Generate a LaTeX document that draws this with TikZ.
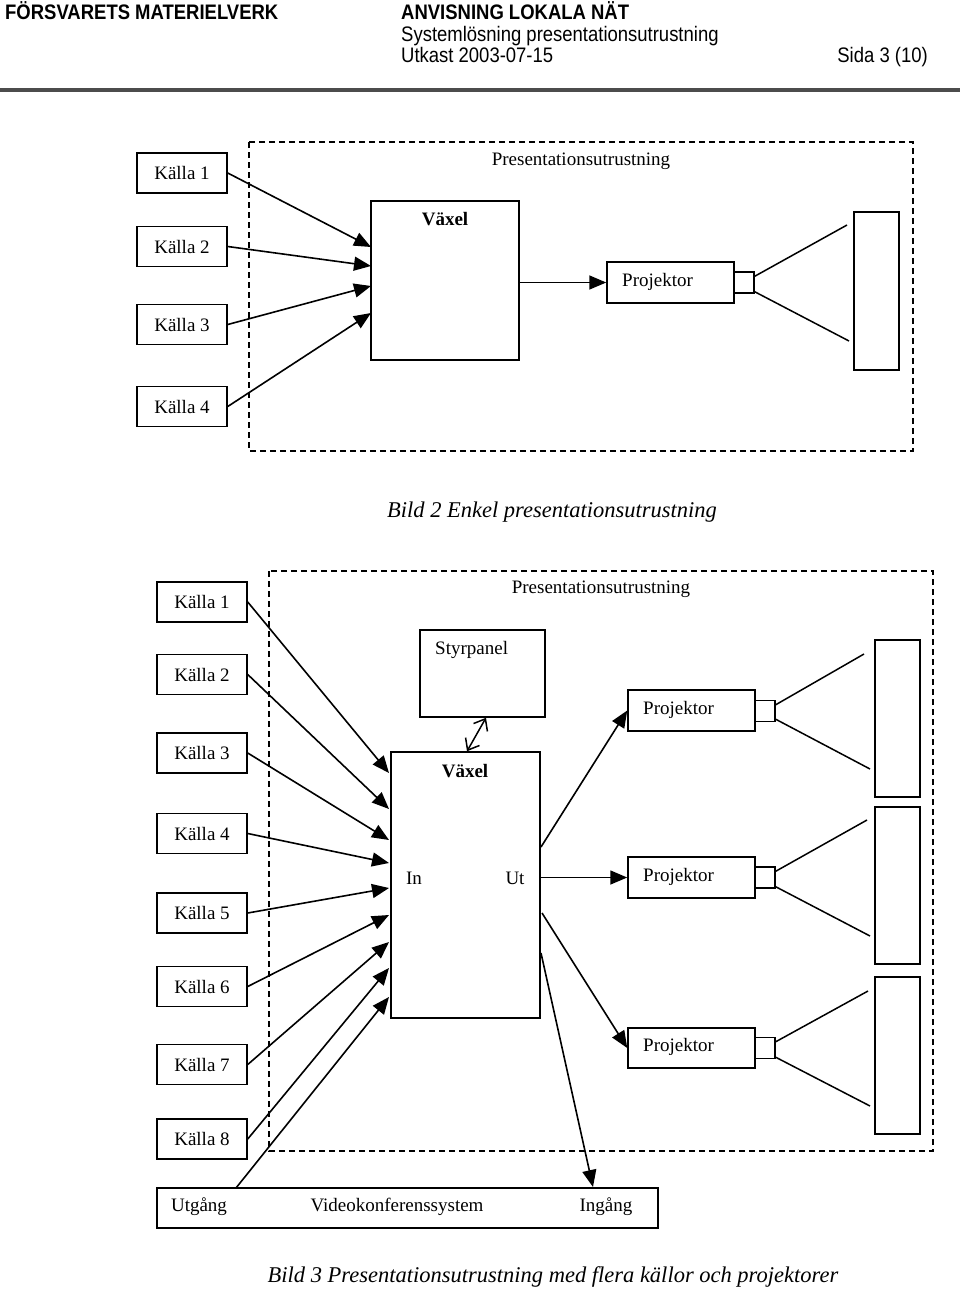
\documentclass[tikz,border=0pt]{standalone}
\usepackage{fontspec}
\setmainfont{Liberation Serif}
\newfontfamily\hfont[FakeStretch=0.88]{Liberation Sans}
\usetikzlibrary{arrows.meta}
\begin{document}
\begin{tikzpicture}[x=1pt,y=-1pt,
  box/.style={draw, line width=1.5pt, inner sep=0pt},
  txt/.style={font=\fontsize{19}{23}\selectfont, inner sep=0pt},
  txtb/.style={font=\fontsize{19}{23}\selectfont\bfseries, inner sep=0pt},
  txti/.style={font=\fontsize{22.5}{26}\selectfont\itshape, inner sep=0pt},
  src/.style={box, txt, minimum width=90pt, minimum height=40pt},
  proj/.style={box, minimum width=127pt, minimum height=41pt},
  lens/.style={box, minimum width=20pt, minimum height=21pt},
  screen/.style={box, minimum width=45pt, minimum height=157pt},
  arr/.style={line width=1.6pt, -{Triangle[length=17pt,width=14pt]}},
  ln/.style={line width=1.5pt},
  dashbox/.style={line width=1.5pt, dash pattern=on 6pt off 4pt},
  hdr/.style={font=\hfont\fontsize{21}{24}\selectfont, inner sep=0pt, anchor=base west},
  hdrb/.style={hdr, font=\hfont\fontsize{21}{24}\selectfont\bfseries},
  barb/.style={line width=1.5pt, {Straight Barb[length=10pt,width=16pt]}-{Straight Barb[length=10pt,width=16pt]}}]
\useasboundingbox (0,0) rectangle (960,1290);

% ---------- header ----------
\node[hdrb] (h1) at (5,20) {FÖRSVARETS MATERIELVERK};
\node[hdrb] (h2) at (401,20) {ANVISNING LOKALA NÄT};
\node[hdr] (h3) at (401,42) {Systemlösning presentationsutrustning};
\node[hdr] (h4) at (401,63) {Utkast 2003-07-15};
\node[hdr, anchor=base east] (h5) at (928,63) {Sida 3 (10)};
\coordinate (rl) at (0,90); \coordinate (rr) at (960,90);
\draw[line width=3.5pt, black!70] (rl) -- (rr);

% ---------- figure 2 ----------
\draw[dashbox] (249,142) rectangle (913,451);
\node[txt] (tpt) at (581,161) {Presentationsutrustning};

\node[src] (ta1) at (182,173) {Källa 1};
\node[src] (ta2) at (182,246.5) {Källa 2};
\node[src] (ta3) at (182,324.5) {Källa 3};
\node[src] (ta4) at (182,406.5) {Källa 4};

\node[box, minimum width=148pt, minimum height=159pt] (tvx) at (445,280.5) {};
\node[txtb] (tvxl) at (445,219) {Växel};

\coordinate (tv1) at (371,247);
\coordinate (tv2) at (371,266);
\coordinate (tv3) at (371,286);
\coordinate (tv4) at (371,313);
\draw[arr] (ta1.east) -- (tv1);
\draw[arr] (ta2.east) -- (tv2);
\draw[arr] (ta3.east) -- (tv3);
\draw[arr] (ta4.east) -- (tv4);

\node[proj] (tpr) at (670.5,282.5) {};
\node[txt, anchor=west] (tprl) at (622,282) {Projektor};
\draw[arr] (tvx.east |- tpr.west) -- (tpr.west);
\node[lens] (tls) at (744,282.5) {};
\node[screen, minimum height=158pt] (tsc) at (876.5,291) {};
\coordinate (tb1) at (847,225);
\coordinate (tb2) at (849,341);
\draw[ln] ([yshift=-5pt]tls.north east) -- (tb1);
\draw[ln] ([yshift=2pt]tls.south east) -- (tb2);

\node[txti] (cap2) at (552,512) {Bild 2 Enkel presentationsutrustning};

% ---------- figure 3 ----------
\draw[dashbox] (269,571) rectangle (933,1151);
\node[txt] (bpt) at (601,589) {Presentationsutrustning};

\node[src] (b1) at (202,602) {Källa 1};
\node[src] (b2) at (202,674.5) {Källa 2};
\node[src] (b3) at (202,753) {Källa 3};
\node[src] (b4) at (202,833.5) {Källa 4};
\node[src] (b5) at (202,913) {Källa 5};
\node[src] (b6) at (202,986.5) {Källa 6};
\node[src] (b7) at (202,1064.5) {Källa 7};
\node[src] (b8) at (202,1139) {Källa 8};

\node[box, minimum width=125pt, minimum height=87pt] (bsp) at (482.5,673.5) {};
\node[txt, anchor=west] (bspl) at (435,650) {Styrpanel};

\node[box, minimum width=149pt, minimum height=266pt] (bvx) at (465.5,885) {};
\node[txtb] (bvxl) at (465,771) {Växel};
\node[txt] (bin) at (414,878) {In};
\node[txt] (but) at (515,878) {Ut};

\draw[barb] ([xshift=3.5pt]bsp.south) -- ([xshift=1.5pt]bvx.north);

\coordinate (bv1) at (389,773);
\coordinate (bv2) at (389,809);
\coordinate (bv3) at (389,840);
\coordinate (bv4) at (389,863);
\coordinate (bv5) at (389,888);
\coordinate (bv6) at (389,915);
\coordinate (bv7) at (389,942);
\coordinate (bv8) at (389,968);
\coordinate (bv9) at (389,997);
\draw[arr] (b1.east) -- (bv1);
\draw[arr] (b2.east) -- (bv2);
\draw[arr] (b3.east) -- (bv3);
\draw[arr] (b4.east) -- (bv4);
\draw[arr] (b5.east) -- (bv5);
\draw[arr] (b6.east) -- (bv6);
\draw[arr] (b7.east) -- (bv7);
\draw[arr] (b8.east) -- (bv8);

% projectors
\node[proj] (p1) at (691.5,710.5) {};
\node[txt, anchor=west] (p1l) at (643,710) {Projektor};
\node[lens] (l1) at (765,711) {};
\node[screen] (s1) at (897.5,718.5) {};
\coordinate (p1a) at (864,654); \coordinate (p1b) at (870,769);
\draw[ln] ([yshift=-5pt]l1.north east) -- (p1a);
\draw[ln] ([yshift=3pt]l1.south east) -- (p1b);

\node[proj] (p2) at (691.5,877.5) {};
\node[txt, anchor=west] (p2l) at (643,877) {Projektor};
\node[lens] (l2) at (765,877.5) {};
\node[screen] (s2) at (897.5,885.5) {};
\coordinate (p2a) at (867,820); \coordinate (p2b) at (870,936);
\draw[ln] ([yshift=-5pt]l2.north east) -- (p2a);
\draw[ln] ([yshift=2pt]l2.south east) -- (p2b);

\node[proj, minimum height=40pt] (p3) at (691.5,1048) {};
\node[txt, anchor=west] (p3l) at (643,1047) {Projektor};
\node[lens] (l3) at (765,1048) {};
\node[screen] (s3) at (897.5,1055.5) {};
\coordinate (p3a) at (868,991); \coordinate (p3b) at (870,1106);
\draw[ln] ([yshift=-5pt]l3.north east) -- (p3a);
\draw[ln] ([yshift=2pt]l3.south east) -- (p3b);

\coordinate (bo1) at (541,847);
\coordinate (bo3) at (542,913);
\coordinate (bo4) at (541,953);
\draw[arr] (bo1) -- (p1.west);
\draw[arr] (bvx.east |- p2.west) -- (p2.west);
\draw[arr] (bo3) -- (p3.west);

% video conference
\node[box, minimum width=501pt, minimum height=40pt] (vk) at (407.5,1208) {};
\node[txt] (vku) at (199,1207) {Utgång};
\node[txt] (vkm) at (397,1207) {Videokonferenssystem};
\node[txt] (vki) at (606,1207) {Ingång};
\coordinate (vkin) at (593,1187);
\coordinate (vkout) at (236,1188);
\draw[arr] (bo4) -- (vkin);
\draw[arr] (vkout) -- (bv9);

\node[txti] (cap3) at (553,1277) {Bild 3 Presentationsutrustning med flera källor och projektorer};
\end{tikzpicture}
\end{document}
